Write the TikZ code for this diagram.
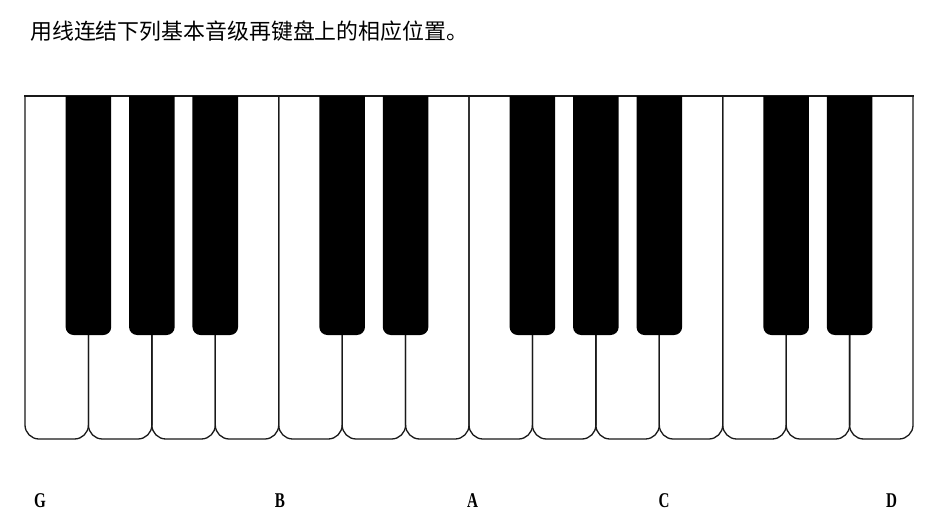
\documentclass[tikz,border=0pt]{standalone}
\usepackage{fontspec}
\setmainfont{Liberation Serif}
\newfontfamily\cjk{Noto Sans CJK SC}
\begin{document}
\begin{tikzpicture}[x=1pt,y=-1pt,
  keyline/.style={draw=black!90,line width=1.3pt},
  blackkey/.style={fill=black},
  notelabel/.style={inner sep=0pt,font=\bfseries\fontsize{21}{24}\selectfont},
  title/.style={inner sep=0pt,anchor=west,font=\cjk\fontsize{21.9}{25}\selectfont}]
\useasboundingbox (0,0) rectangle (939,531);
\fill[white] (0,0) rectangle (939,531);
\def\kw{63.43}
\def\ktop{96}
\def\kbot{439}
% white keys
\foreach \i in {0,...,13}{
  \pgfmathsetmacro{\xl}{25+\i*\kw}
  \pgfmathsetmacro{\xr}{25+(\i+1)*\kw}
  \draw[keyline,rounded corners=14] (\xl,\ktop) -- (\xl,\kbot) -- (\xr,\kbot) -- (\xr,\ktop);
}
\draw[keyline] (24.35,\ktop) -- (913.67,\ktop);
% black keys
\foreach \b in {1,2,3,5,6,8,9,10,12,13}{
  \pgfmathsetmacro{\xa}{25+\b*\kw-22.8}
  \pgfmathsetmacro{\xb}{25+\b*\kw+22.8}
  \fill[blackkey] (\xa,\ktop) -- (\xa,250) [rounded corners=8] -- (\xa,335) -- (\xb,335) -- (\xb,250) [sharp corners] -- (\xb,\ktop) -- cycle;
}
% title
\node[title] (t) at (30,31) {用线连结下列基本音级再键盘上的相应位置。};
% labels
\node[notelabel] (G) at (40,500.5) {\scalebox{0.72}[1]{G}};
\node[notelabel] (B) at (280,500.5) {\scalebox{0.72}[1]{B}};
\node[notelabel] (A) at (472.5,500.5) {\scalebox{0.72}[1]{A}};
\node[notelabel] (C) at (664,500.5) {\scalebox{0.72}[1]{C}};
\node[notelabel] (D) at (891.5,500.5) {\scalebox{0.72}[1]{D}};
\end{tikzpicture}
\end{document}
